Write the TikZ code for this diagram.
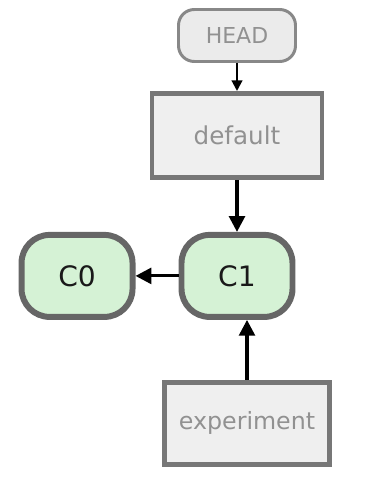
\documentclass[tikz,border=0pt]{standalone}
\usepackage{fontspec}
\setmainfont{DejaVu Sans}
\usepackage{xcolor}
\usetikzlibrary{arrows.meta,positioning}
\definecolor{reffill}  {RGB}{239,239,239}
\definecolor{refdraw}  {RGB}{119,119,119}
\definecolor{headfill} {RGB}{235,235,235}
\definecolor{headdraw} {RGB}{136,136,136}
\definecolor{reftext}  {RGB}{145,145,145}
\definecolor{commitfill}{RGB}{213,242,213}
\definecolor{commitdraw}{RGB}{102,102,102}
\tikzset{
  refbox/.style   ={draw=refdraw, fill=reffill, line width=2.8pt,
                    text=reftext, font=\fontsize{14}{16}\selectfont,
                    minimum width=3.4cm, minimum height=1.68cm},
  headbox/.style  ={draw=headdraw, fill=headfill, line width=1.7pt,
                    rounded corners=9pt, text=reftext,
                    font=\fontsize{12.5}{15}\selectfont,
                    minimum width=2.34cm, minimum height=1.04cm},
  commitbox/.style={draw=commitdraw, fill=commitfill, line width=3.4pt,
                    rounded corners=16pt, text=black!90,
                    font=\fontsize{16}{19}\selectfont,
                    minimum width=2.22cm, minimum height=1.64cm},
  arr/.style      ={-{Triangle[length=9pt, width=9pt]}, line width=1.8pt},
  sarr/.style     ={-{Triangle[length=6pt, width=6pt]}, line width=1.2pt},
}

\begin{document}
\begin{tikzpicture}
  \useasboundingbox (0,0) rectangle (7.68,-9.7);
  \node[headbox] (head) at (4.74,-0.71) {HEAD};
  \node[refbox, below=0.56cm of head] (default) {default};
  \node[commitbox, below=1.04cm of default] (c1) {C1};
  \node[commitbox, left=0.86cm of c1] (c0) {C0};
  \node[refbox, below=1.2cm of c1, xshift=0.2cm, minimum width=3.3cm,
        minimum height=1.64cm, font=\fontsize{13.5}{16}\selectfont]
        (experiment) {experiment};

  \draw[sarr] (head) -- (default);
  \draw[arr] (default) -- (c1);
  \draw[arr] (c1) -- (c0);
  \draw[arr] (experiment.north) -- (experiment.north |- c1.south);
\end{tikzpicture}
\end{document}
